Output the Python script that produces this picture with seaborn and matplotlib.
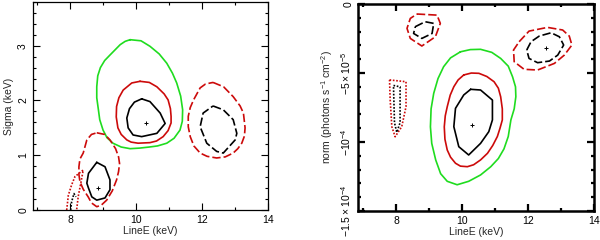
import matplotlib
matplotlib.use("Agg")
import matplotlib.pyplot as plt
import seaborn as sns
from matplotlib.ticker import MultipleLocator, FixedLocator, FixedFormatter

# ---------------- left panel: LineE (keV) vs Sigma (keV) ----------------
# green outer contour around the central fit
sig_green_e = [9.82, 10.15, 10.42, 10.70, 10.93, 11.10, 11.23, 11.35, 11.41, 11.40, 11.33, 11.15,
               10.93, 10.65, 10.40, 10.10, 9.82, 9.55, 9.30, 9.12, 9.00, 8.90, 8.86, 8.81,
               8.81, 8.84, 8.92, 9.05, 9.21, 9.52, 9.67]
sig_green_s = [3.11, 3.09, 2.99, 2.85, 2.68, 2.50, 2.32, 2.08, 1.83, 1.62, 1.46, 1.31,
               1.22, 1.17, 1.15, 1.13, 1.12, 1.15, 1.22, 1.32, 1.46, 1.65, 1.83, 2.05,
               2.25, 2.45, 2.60, 2.73, 2.83, 3.02, 3.08]
# red / black solid contours around the central fit
sig_red_e = [10.12, 10.40, 10.63, 10.85, 10.97, 11.04, 11.06, 11.06, 10.97, 10.82, 10.62, 10.42,
             10.06, 9.85, 9.72, 9.55, 9.45, 9.40, 9.41, 9.48, 9.61, 9.87]
sig_red_s = [2.35, 2.33, 2.25, 2.12, 2.01, 1.85, 1.71, 1.59, 1.45, 1.34, 1.26, 1.23,
             1.22, 1.24, 1.28, 1.38, 1.50, 1.70, 1.89, 2.05, 2.19, 2.32]
sig_blk_e = [10.17, 10.42, 10.73, 10.88, 10.63, 10.17, 9.91, 9.76, 9.72, 9.80, 9.95]
sig_blk_s = [2.03, 1.98, 1.77, 1.58, 1.40, 1.34, 1.37, 1.50, 1.68, 1.85, 1.97]
sig_best_e = [10.29, 8.86]
sig_best_s = [1.58, 0.40]
# dashed contours, high energy line
sig_hi_red_e = [12.33, 12.65, 12.94, 13.15, 13.25, 13.30, 13.28, 13.20, 13.08, 12.94, 12.70,
                12.44, 12.15, 11.94, 11.75, 11.64, 11.58, 11.58, 11.64, 11.74, 11.94, 12.10]
sig_hi_red_s = [2.33, 2.25, 2.07, 1.90, 1.77, 1.50, 1.35, 1.22, 1.12, 1.04, 0.97,
                0.95, 0.98, 1.04, 1.17, 1.34, 1.52, 1.71, 1.87, 2.01, 2.23, 2.30]
sig_hi_blk_e = [12.33, 12.64, 12.94, 13.05, 13.00, 12.64, 12.44, 12.14, 11.94, 12.03]
sig_hi_blk_s = [1.90, 1.83, 1.65, 1.40, 1.28, 1.04, 1.07, 1.22, 1.52, 1.77]
# low energy line
sig_lo_red_e = [8.81, 9.05, 9.21, 9.38, 9.47, 9.50, 9.47, 9.41, 9.28, 9.11, 8.95, 8.81,
                8.65, 8.55, 8.40, 8.30, 8.27, 8.27, 8.30, 8.40, 8.51, 8.65]
sig_lo_red_s = [1.41, 1.38, 1.28, 1.12, 0.97, 0.85, 0.70, 0.55, 0.35, 0.18, 0.09, 0.06,
                0.13, 0.24, 0.38, 0.52, 0.65, 0.79, 0.93, 1.04, 1.28, 1.38]
sig_lo_blk_e = [8.81, 9.06, 9.21, 9.21, 9.06, 8.81, 8.66, 8.56, 8.51, 8.56]
sig_lo_blk_s = [0.87, 0.79, 0.55, 0.37, 0.22, 0.18, 0.24, 0.40, 0.49, 0.67]
# dotted contours near 8 keV (open at the axis)
sig_dot_red_e = [7.90, 7.95, 8.05, 8.15, 8.40, 8.33, 8.25, 8.20]
sig_dot_red_s = [0.00, 0.27, 0.46, 0.61, 0.73, 0.50, 0.25, 0.00]
sig_dot_blk_e = [8.02, 8.05, 8.12, 8.18]
sig_dot_blk_s = [0.00, 0.15, 0.30, 0.24]

# ---------------- right panel: LineE (keV) vs norm (1e-5 units) ----------------
nrm_green_e = [9.95, 10.25, 10.56, 10.90, 11.17, 11.40, 11.53, 11.62, 11.63, 11.58, 11.48, 11.40,
               11.27, 11.10, 10.87, 10.56, 10.20, 9.85, 9.55, 9.35, 9.20, 9.08, 9.04, 9.06,
               9.14, 9.27, 9.44, 9.65]
nrm_green_n = [-3.46, -3.30, -3.28, -3.50, -3.94, -4.50, -5.27, -6.00, -6.72, -7.60, -8.40, -9.60,
               -10.50, -11.20, -11.79, -12.39, -12.85, -13.10, -12.85, -12.30, -11.30, -10.10, -8.90, -7.60,
               -6.47, -5.40, -4.54, -3.90]
nrm_red_e = [10.05, 10.28, 10.51, 10.75, 10.97, 11.10, 11.17, 11.22, 11.22, 11.15, 11.07, 10.93,
             10.77, 10.56, 10.35, 10.16, 9.95, 9.80, 9.65, 9.55, 9.48, 9.46, 9.49, 9.55,
             9.64, 9.75, 9.88]
nrm_red_n = [-5.14, -5.00, -5.02, -5.25, -5.63, -6.10, -6.72, -7.60, -8.40, -9.00, -9.60, -10.25,
             -10.82, -11.30, -11.65, -11.79, -11.75, -11.54, -11.10, -10.58, -9.80, -8.90, -8.10, -7.44,
             -6.60, -5.99, -5.50]
nrm_blk_e = [10.26, 10.56, 10.92, 10.92, 10.81, 10.56, 10.20, 9.90, 9.75, 9.80, 10.05]
nrm_blk_n = [-6.18, -6.23, -6.96, -8.40, -9.25, -10.10, -10.94, -10.34, -8.89, -7.56, -6.59]
nrm_best_e = [10.31, 12.54]
nrm_best_n = [-8.77, -3.17]
nrm_hi_red_e = [11.73, 12.03, 12.59, 13.05, 13.25, 13.33, 13.10, 12.80, 12.29, 11.88, 11.58, 11.56]
nrm_hi_red_n = [-2.73, -1.96, -1.69, -1.88, -2.32, -2.97, -3.70, -4.30, -4.78, -4.73, -4.18, -3.33]
nrm_hi_blk_e = [11.96, 12.09, 12.34, 12.70, 12.95, 13.08, 12.90, 12.65, 12.29, 12.03]
nrm_hi_blk_n = [-3.33, -2.73, -2.32, -2.08, -2.37, -2.97, -3.70, -4.13, -4.25, -3.94]
nrm_lo_red_e = [8.63, 9.24, 9.34, 9.19, 8.78, 8.43, 8.33, 8.43]
nrm_lo_red_n = [-0.72, -0.80, -1.40, -2.37, -3.04, -2.49, -1.76, -1.04]
nrm_lo_blk_e = [8.58, 8.88, 9.14, 9.09, 8.78, 8.53]
nrm_lo_blk_n = [-1.64, -1.28, -1.40, -2.13, -2.49, -2.13]
nrm_dot_red_e = [7.80, 8.30, 8.30, 8.17, 7.97, 7.87, 7.82]
nrm_dot_red_n = [-5.50, -5.63, -7.44, -8.89, -9.62, -8.89, -6.96]
nrm_dot_blk_e = [7.92, 8.12, 8.12, 8.02, 7.95]
nrm_dot_blk_n = [-5.90, -6.00, -8.60, -9.30, -8.60]
nrm_scale = 1e-5

GREEN = "#1fdc1f"
RED = "#cc0a0a"
BLACK = "black"
DASH = (0, (5, 1.8))
DOT = (0, (1, 1))

sns.set_style("ticks")
plt.rcParams["font.family"] = ["Liberation Sans", "DejaVu Sans"]
plt.rcParams["mathtext.default"] = "regular"
plt.rcParams["font.size"] = 7.5


def contour(ax, xs, ys, color, ls="-", closed=True, scale=1.0):
    xs = list(xs)
    ys = [v * scale for v in ys]
    if closed:
        xs = xs + xs[:1]
        ys = ys + ys[:1]
    sns.lineplot(x=xs, y=ys, sort=False, estimator=None, color=color,
                 linestyle=ls, linewidth=1.2, ax=ax)


def style_axes(ax, spine_lw):
    for s in ax.spines.values():
        s.set_visible(True)
        s.set_linewidth(spine_lw)
        s.set_color("black")
    ax.tick_params(which="both", direction="in", top=True, right=True,
                   width=spine_lw * 0.9, colors="black", labelsize=7.5)
    ax.tick_params(which="major", length=5)
    ax.tick_params(which="minor", length=2.5)
    ax.tick_params(axis="y", labelrotation=90)
    for lab in ax.get_yticklabels():
        lab.set_va("center")


fig = plt.figure(figsize=(6.0, 2.4), dpi=100)

# left panel
ax1 = fig.add_axes([0.055, 0.125, 0.392, 0.867])
contour(ax1, sig_green_e, sig_green_s, GREEN)
contour(ax1, sig_red_e, sig_red_s, RED)
contour(ax1, sig_blk_e, sig_blk_s, BLACK)
contour(ax1, sig_hi_red_e, sig_hi_red_s, RED, DASH)
contour(ax1, sig_hi_blk_e, sig_hi_blk_s, BLACK, DASH)
contour(ax1, sig_lo_red_e, sig_lo_red_s, RED, DASH)
contour(ax1, sig_lo_blk_e, sig_lo_blk_s, BLACK)
contour(ax1, sig_dot_red_e, sig_dot_red_s, RED, DOT, closed=False)
contour(ax1, sig_dot_blk_e, sig_dot_blk_s, BLACK, DOT, closed=False)
sns.scatterplot(x=sig_best_e, y=sig_best_s, marker="+", s=12, color=BLACK,
                linewidth=0.7, ax=ax1)
ax1.set_xlim(6.88, 14)
ax1.set_ylim(0, 3.8)
ax1.xaxis.set_major_locator(FixedLocator([8, 10, 12, 14]))
ax1.xaxis.set_minor_locator(MultipleLocator(1))
ax1.yaxis.set_major_locator(MultipleLocator(1))
ax1.yaxis.set_minor_locator(MultipleLocator(0.2))
ax1.set_xlabel("LineE (keV)", labelpad=1)
ax1.set_ylabel("Sigma (keV)", labelpad=3)
style_axes(ax1, 0.9)

# right panel
ax2 = fig.add_axes([0.597, 0.121, 0.393, 0.862])
contour(ax2, nrm_green_e, nrm_green_n, GREEN, scale=nrm_scale)
contour(ax2, nrm_red_e, nrm_red_n, RED, scale=nrm_scale)
contour(ax2, nrm_blk_e, nrm_blk_n, BLACK, scale=nrm_scale)
contour(ax2, nrm_hi_red_e, nrm_hi_red_n, RED, DASH, scale=nrm_scale)
contour(ax2, nrm_hi_blk_e, nrm_hi_blk_n, BLACK, DASH, scale=nrm_scale)
contour(ax2, nrm_lo_red_e, nrm_lo_red_n, RED, DASH, scale=nrm_scale)
contour(ax2, nrm_lo_blk_e, nrm_lo_blk_n, BLACK, DASH, scale=nrm_scale)
contour(ax2, nrm_dot_red_e, nrm_dot_red_n, RED, DOT, scale=nrm_scale)
contour(ax2, nrm_dot_blk_e, nrm_dot_blk_n, BLACK, DOT, scale=nrm_scale)
sns.scatterplot(x=nrm_best_e, y=[v * nrm_scale for v in nrm_best_n], marker="+",
                s=12, color=BLACK, linewidth=0.7, ax=ax2)
ax2.set_xlim(6.85, 14)
ax2.set_ylim(-15 * nrm_scale, 0)
ax2.xaxis.set_major_locator(FixedLocator([8, 10, 12, 14]))
ax2.xaxis.set_minor_locator(MultipleLocator(1))
ax2.yaxis.set_major_locator(FixedLocator([-15e-5, -10e-5, -5e-5, 0]))
ax2.yaxis.set_major_formatter(FixedFormatter(
    [r"$-1.5\times10^{-4}$", r"$-10^{-4}$", r"$-5\times10^{-5}$", "0"]))
ax2.yaxis.set_minor_locator(MultipleLocator(1e-5))
ax2.set_xlabel("LineE (keV)", labelpad=1)
ax2.set_ylabel(r"norm (photons s$^{-1}$ cm$^{-2}$)", labelpad=3)
style_axes(ax2, 1.8)

fig.savefig("out.png", dpi=100)
